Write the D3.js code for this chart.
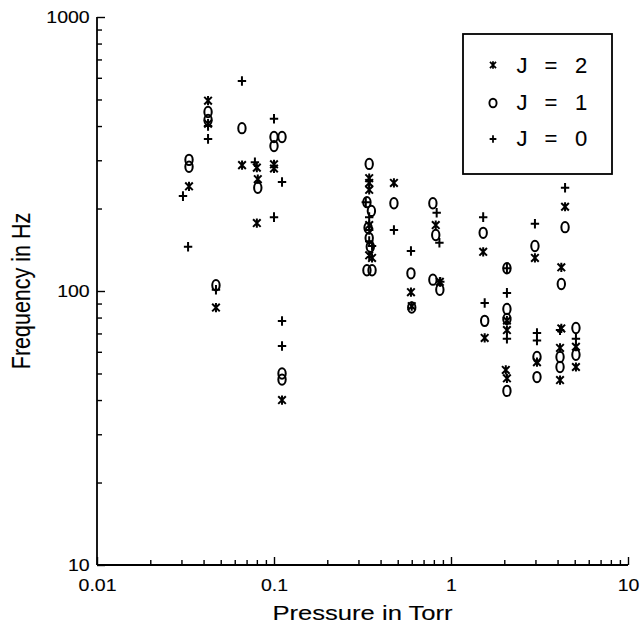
<!DOCTYPE html>
<html>
<head>
<meta charset="utf-8">
<script src="https://cdn.jsdelivr.net/npm/d3@7"></script>
<style>
  html, body { margin: 0; padding: 0; background: #fff; }
  svg { display: block; }
  text { font-family: "Liberation Sans", Arial, Helvetica, sans-serif; fill: #000; stroke: #000; stroke-width: 0.12px; }
</style>
</head>
<body>
<svg id="chart" width="641" height="631"></svg>
<script>
// Measured oscillation frequency vs. pressure, one series per rotational level J.
// Each point: [pressure in Torr, frequency in Hz]
const j2Points = [
  [0.0331, 241], [0.0424, 495], [0.0424, 408], [0.047, 87],
  [0.066, 288], [0.080, 282], [0.081, 256], [0.080, 177],
  [0.100, 290], [0.100, 280], [0.111, 40],
  [0.345, 258], [0.345, 248], [0.345, 234], [0.345, 174], [0.345, 135], [0.358, 132],
  [0.476, 248], [0.594, 99], [0.600, 88],
  [0.820, 174], [0.865, 108],
  [1.52, 139], [1.55, 67.4],
  [2.07, 78], [2.07, 72], [2.04, 51.5], [2.07, 48],
  [2.98, 132], [3.06, 55],
  [4.41, 203], [4.20, 122], [4.20, 73], [4.13, 62], [4.13, 47.3],
  [5.08, 62.6], [5.08, 52.8]
];
const j1Points = [
  [0.0331, 301], [0.0331, 284], [0.0424, 450], [0.0424, 421], [0.047, 105],
  [0.0659, 393], [0.081, 238], [0.100, 365], [0.111, 365], [0.100, 338],
  [0.111, 50], [0.111, 47.5],
  [0.345, 291], [0.335, 211], [0.355, 196], [0.340, 170], [0.345, 156], [0.350, 145],
  [0.335, 119], [0.358, 119],
  [0.476, 209], [0.594, 116], [0.600, 87],
  [0.790, 209], [0.820, 160], [0.790, 110], [0.865, 101],
  [1.52, 163], [1.55, 77.8],
  [2.07, 121], [2.07, 86], [2.07, 79], [2.07, 43.2],
  [2.98, 146], [3.06, 57.4], [3.06, 48.5],
  [4.41, 171], [4.20, 106], [4.13, 57.4], [4.13, 52.8],
  [5.08, 73.3], [5.08, 58.5]
];
const j0Points = [
  [0.0306, 222], [0.0327, 145], [0.0424, 400], [0.0424, 359], [0.047, 101],
  [0.0659, 584], [0.078, 295], [0.100, 425], [0.111, 250], [0.100, 186],
  [0.111, 77.7], [0.111, 63],
  [0.330, 211], [0.345, 186], [0.345, 167], [0.345, 152], [0.358, 146],
  [0.476, 167], [0.594, 140],
  [0.830, 193], [0.860, 150], [0.870, 108],
  [1.52, 186], [1.55, 90.4],
  [2.07, 121], [2.07, 98.4], [2.07, 67],
  [2.98, 176], [3.06, 70.3], [3.06, 66],
  [4.41, 238], [4.13, 72],
  [5.08, 67]
];

const xTickLabels = ["0.01", "0.1", "1", "10"];
const yTickLabels = ["10", "100", "1000"];
const legendLabels = ["2", "1", "0"];
const xTitle = "Pressure in Torr";
const yTitle = "Frequency in Hz";

const svg = d3.select("#chart");
const plotLeft = 97, plotRight = 628, plotTop = 17, plotBottom = 565;
const stretch = 1.22;

const x = d3.scaleLog().domain([0.01, 10]).range([plotLeft, plotRight]);
const y = d3.scaleLog().domain([10, 1000]).range([plotBottom, plotTop]);

// all decade sub-ticks
function logTicks(lo, hi) {
  const out = [];
  for (let d = lo; d < hi; d *= 10) {
    for (let k = 1; k < 10; k++) out.push(+(d * k).toPrecision(3));
  }
  out.push(hi);
  return out;
}
const isMajor = v => Math.abs(Math.log10(v) - Math.round(Math.log10(v))) < 1e-9;

// x axis (ticks pointing up into the plot)
const xAxisG = svg.append("g").attr("transform", `translate(0,${plotBottom})`);
xAxisG.call(d3.axisBottom(x)
  .tickValues(logTicks(0.01, 10))
  .tickSize(-5)
  .tickPadding(15)
  .tickFormat(v => isMajor(v) ? xTickLabels[Math.round(Math.log10(v)) + 2] : ""));
xAxisG.select(".domain").attr("d", `M${plotLeft},0H${plotRight}`).attr("stroke-width", 1.8);
xAxisG.selectAll(".tick line").attr("stroke-width", 1.4)
  .attr("y2", v => isMajor(v) ? -8 : -5);
xAxisG.selectAll(".tick text")
  .style("font-size", "16px")
  .attr("transform", `scale(${stretch},1)`);

// y axis (ticks pointing right into the plot)
const yAxisG = svg.append("g").attr("transform", `translate(${plotLeft},0)`);
yAxisG.call(d3.axisLeft(y)
  .tickValues(logTicks(10, 1000))
  .tickSize(-5)
  .tickPadding(6)
  .tickFormat(v => isMajor(v) ? yTickLabels[Math.round(Math.log10(v)) - 1] : ""));
yAxisG.select(".domain").attr("d", `M0,${plotTop}V${plotBottom}`).attr("stroke-width", 1.8);
yAxisG.selectAll(".tick line").attr("stroke-width", 1.4)
  .attr("x2", v => isMajor(v) ? 8 : 5);
yAxisG.selectAll(".tick text")
  .style("font-size", "16px")
  .attr("transform", `scale(${stretch},1)`);

// axis titles
svg.append("text")
  .attr("transform", `translate(${(plotLeft + plotRight) / 2},620) scale(${stretch},1)`)
  .attr("text-anchor", "middle")
  .style("font-size", "21px")
  .text(xTitle);
svg.append("text")
  .attr("transform", `translate(30,${y(100)}) rotate(-90) scale(1,${stretch})`)
  .attr("text-anchor", "middle")
  .style("font-size", "21.5px")
  .text(yTitle);

// marker shapes
const markers = {
  star: "M-3.8,-3.8L3.8,3.8M-3.8,3.8L3.8,-3.8M0,-4.6V4.6",
  plus: "M-4.2,0H4.2M0,-4.8V4.8"
};
function drawStars(g, pts) {
  g.selectAll(null).data(pts).join("path")
    .attr("transform", d => `translate(${x(d[0])},${y(d[1])})`)
    .attr("d", markers.star)
    .attr("fill", "none").attr("stroke", "#000").attr("stroke-width", 2);
}
function drawPlus(g, pts) {
  g.selectAll(null).data(pts).join("path")
    .attr("transform", d => `translate(${x(d[0])},${y(d[1])})`)
    .attr("d", markers.plus)
    .attr("fill", "none").attr("stroke", "#000").attr("stroke-width", 2);
}
function drawRings(g, pts) {
  g.selectAll(null).data(pts).join("ellipse")
    .attr("cx", d => x(d[0])).attr("cy", d => y(d[1]))
    .attr("rx", 3.7).attr("ry", 5.2)
    .attr("fill", "none").attr("stroke", "#000").attr("stroke-width", 2);
}
const plot = svg.append("g");
drawRings(plot.append("g"), j1Points);
drawStars(plot.append("g"), j2Points);
drawPlus(plot.append("g"), j0Points);

// legend
const lg = svg.append("g");
lg.append("rect").attr("x", 463).attr("y", 34).attr("width", 149).attr("height", 140)
  .attr("fill", "#fff").attr("stroke", "#000").attr("stroke-width", 1.8);
const rowY = [65, 102, 138];
legendLabels.forEach((lab, i) => {
  const cy = rowY[i];
  if (i === 0) lg.append("path").attr("transform", `translate(493,${cy}) scale(0.8)`).attr("d", markers.star)
    .attr("fill", "none").attr("stroke", "#000").attr("stroke-width", 2.2);
  if (i === 1) lg.append("ellipse").attr("cx", 493).attr("cy", cy + 1).attr("rx", 3.6).attr("ry", 4.3)
    .attr("fill", "none").attr("stroke", "#000").attr("stroke-width", 1.9);
  if (i === 2) lg.append("path").attr("transform", `translate(493,${cy + 1}) scale(0.8)`).attr("d", markers.plus)
    .attr("fill", "none").attr("stroke", "#000").attr("stroke-width", 2.2);
  [["J", 522], ["=", 551], [lab, 581]].forEach(([t, tx]) => {
    lg.append("text").attr("x", tx).attr("y", cy + 8)
      .attr("text-anchor", "middle").style("font-size", "22px").text(t);
  });
});
</script>
</body>
</html>
